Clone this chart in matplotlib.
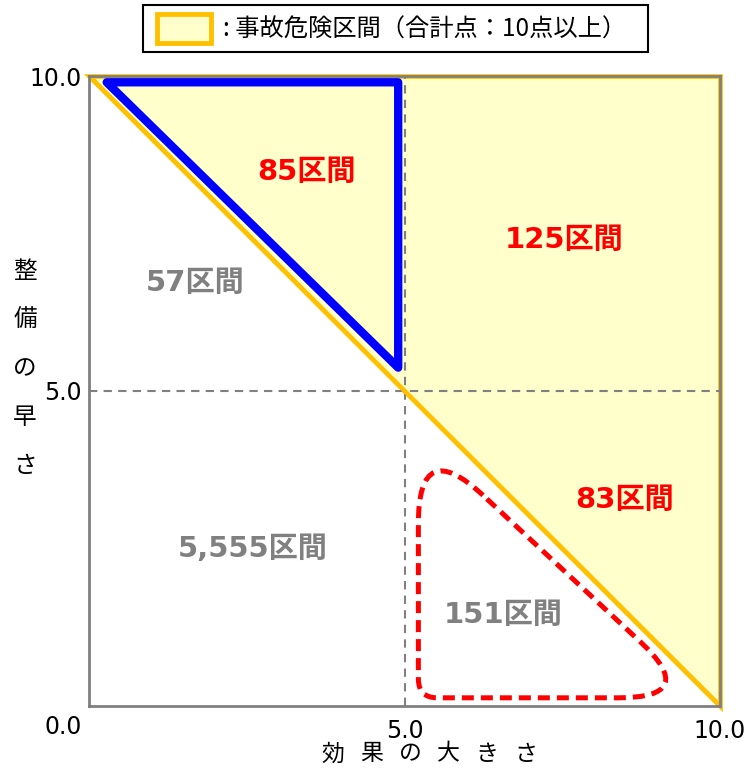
import matplotlib
matplotlib.use('Agg')
import matplotlib.pyplot as plt
from matplotlib.patches import Polygon, Rectangle, PathPatch
from matplotlib.path import Path
import numpy as np

# ---------------- data ----------------
x_tick_vals = [5.0, 10.0]
x_tick_labels = ['5.0', '10.0']
y_tick_vals = [5.0, 10.0]
y_tick_labels = ['5.0', '10.0']
origin_label = '0.0'
x_label = '効果の大きさ'
y_label = '整備の早さ'
threshold = 5.0

danger_x = [0.0, 10.0, 10.0]
danger_y = [10.0, 10.0, 0.0]
diag_x = [0.0, 10.0]
diag_y = [10.0, 0.0]

blue_x = [0.28, 4.9, 4.9]
blue_y = [9.9, 9.9, 5.37]

red_x = [5.22, 5.22, 9.69]
red_y = [4.3, 0.13, 0.13]
red_round = [1.4, 0.3, 1.3]

region_labels = ['85区間', '125区間', '57区間', '83区間', '5,555区間', '151区間']
region_x = [3.44, 7.53, 1.68, 8.49, 2.60, 6.56]
region_y = [8.48, 7.40, 6.71, 3.27, 2.49, 1.44]
region_danger = [True, True, False, True, False, False]

legend_text = ': 事故危険区間（合計点：10点以上）'

# ---------------- style ----------------
ORANGE = '#FFC000'
YELLOW = '#FFFFCC'
GRAY = '#808080'
RED = '#FF0000'
BLUE = '#0000FF'
FAM = ['DejaVu Sans', 'Noto Sans CJK JP']
CJK = ['Noto Sans CJK JP', 'DejaVu Sans']

plt.rcParams['font.family'] = FAM

W, H = 749, 769
fig = plt.figure(figsize=(W / 100, H / 100), dpi=100)
ax = fig.add_axes([89 / W, 1 - 706 / H, (720 - 89) / W, (706 - 76) / H])
ax.set_xlim(0, 10)
ax.set_ylim(0, 10)

for s in ['top', 'right', 'left', 'bottom']:
    ax.spines[s].set_color(GRAY)
    ax.spines[s].set_linewidth(2.0)
    ax.spines[s].set_zorder(3.5)

ax.tick_params(length=0, labelsize=17, pad=5)
ax.tick_params(axis='x', pad=9)
ax.set_xticks(x_tick_vals)
ax.set_xticklabels(x_tick_labels)
ax.set_yticks(y_tick_vals)
ax.set_yticklabels(y_tick_labels)

# danger zone fill
ax.add_patch(Polygon(np.column_stack([danger_x, danger_y]), closed=True,
                     facecolor=YELLOW, edgecolor=ORANGE, linewidth=3.4,
                     zorder=1, clip_on=False))

# threshold dashed lines
ax.plot([threshold, threshold], [0, 10], color=GRAY, lw=1.5,
        ls=(0, (4, 3)), zorder=2)
ax.plot([0, 10], [threshold, threshold], color=GRAY, lw=1.5,
        ls=(0, (4, 3)), zorder=2)

# diagonal
ax.plot(diag_x, diag_y, color=ORANGE, lw=3, zorder=3, solid_capstyle='butt')

# blue triangle
ax.add_patch(Polygon(np.column_stack([blue_x, blue_y]), closed=True,
                     facecolor='none', edgecolor=BLUE, linewidth=6,
                     joinstyle='round', zorder=4))


def rounded_path(xs, ys, ds):
    P = np.column_stack([xs, ys]).astype(float)
    n = len(P)
    verts, codes = [], []
    for i in range(n):
        prev, cur, nxt = P[i - 1], P[i], P[(i + 1) % n]
        u1 = (prev - cur) / np.linalg.norm(prev - cur)
        u2 = (nxt - cur) / np.linalg.norm(nxt - cur)
        a = cur + ds[i] * u1
        b = cur + ds[i] * u2
        verts.append(a)
        codes.append(Path.MOVETO if i == 0 else Path.LINETO)
        verts += [cur, b]
        codes += [Path.CURVE3, Path.CURVE3]
    verts.append(verts[0])
    codes.append(Path.LINETO)
    return Path(verts, codes)


ax.add_patch(PathPatch(rounded_path(red_x, red_y, red_round), facecolor='none',
                       edgecolor=RED, linewidth=3.6, linestyle=(0, (2.4, 1.4)),
                       zorder=4))

# region labels
for lab, x, y, d in zip(region_labels, region_x, region_y, region_danger):
    ax.text(x, y, lab, color=RED if d else GRAY, fontsize=21, fontweight='bold',
            ha='center', va='center', family=FAM, zorder=5)

# ---------------- overlay (pixel coords) ----------------
ov = fig.add_axes([0, 0, 1, 1])
ov.set_xlim(0, W)
ov.set_ylim(H, 0)
ov.axis('off')

ov.text(63, 727, origin_label, fontsize=17, ha='center', va='center', family=FAM)

for i, ch in enumerate(x_label):
    ov.text(333 + 38.5 * i, 754, ch, fontsize=16.5, ha='center', va='center',
            family=CJK)
for i, ch in enumerate(y_label):
    ov.text(25, 272 + 48.5 * i, ch, fontsize=17, ha='center', va='center',
            family=CJK)

# legend
ov.add_patch(Rectangle((143, 5), 505, 47, facecolor='white', edgecolor='black',
                       linewidth=1.5))
ov.add_patch(Rectangle((157, 14), 54, 29, facecolor=YELLOW, edgecolor=ORANGE,
                       linewidth=3.5))
ov.text(223, 30, legend_text, fontsize=17.5, ha='left', va='center', family=CJK)

fig.savefig('out.png', dpi=100)
